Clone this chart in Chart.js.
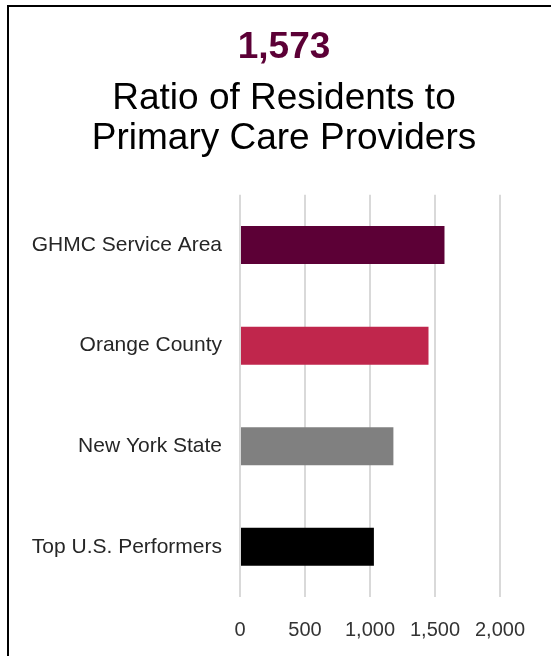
<!DOCTYPE html>
<html>
<head>
<meta charset="utf-8">
<script src="https://cdn.jsdelivr.net/npm/chart.js@4/dist/chart.umd.min.js"></script>
<style>
  html, body { margin: 0; padding: 0; background: #fff; }
  #frame { position: absolute; left: 7px; top: 5px; width: 544px; height: 651px;
           border-left: 2px solid #000; border-top: 2px solid #000; box-sizing: border-box; }
  #wrap { position: absolute; left: 9px; top: 7px; width: 542px; height: 649px; }
</style>
</head>
<body>
<div id="frame"></div>
<div id="wrap"><canvas id="c"></canvas></div>
<script>
const headline = "1,573";
const titleLines = ["Ratio of Residents to", "Primary Care Providers"];
const categories = ["GHMC Service Area", "Orange County", "New York State", "Top U.S. Performers"];
const values = [1573, 1450, 1180, 1030];
const barColors = ["#5c0036", "#c0264c", "#808080", "#000000"];
const xTicks = [0, 500, 1000, 1500, 2000];

// shift the title blocks so they are centred like the reference
const titleShift = {
  id: 'titleShift',
  afterLayout(chart) {
    chart.boxes.forEach(b => {
      if (b.position === 'top' && b.options && b.options.text !== undefined) {
        b.left += 29.5; b.right += 29.5;
      }
    });
  }
};

new Chart(document.getElementById('c'), {
  type: 'bar',
  data: {
    labels: categories,
    datasets: [{
      data: values,
      backgroundColor: barColors,
      borderWidth: 0,
      categoryPercentage: 1,
      barPercentage: 0.378
    }]
  },
  plugins: [titleShift],
  options: {
    indexAxis: 'y',
    responsive: true,
    maintainAspectRatio: false,
    animation: false,
    layout: { padding: { left: 0, right: 51, top: 0, bottom: 0 } },
    plugins: {
      legend: { display: false },
      tooltip: { enabled: false },
      title: {
        display: true,
        text: headline,
        color: '#5c0036',
        font: { family: 'Liberation Sans, Arial, sans-serif', size: 37, weight: 'bold' },
        padding: { top: 19, bottom: 4 }
      },
      subtitle: {
        display: true,
        text: titleLines,
        color: '#000',
        font: { family: 'Liberation Sans, Arial, sans-serif', size: 37, weight: 'normal', lineHeight: 1.08 },
        padding: { top: 4, bottom: 36.5 }
      }
    },
    scales: {
      x: {
        min: 0, max: 2000,
        afterBuildTicks: (s) => { s.ticks = xTicks.map(v => ({ value: v })); },
        afterFit: (s) => { s.height = 59; },
        grid: { color: '#d9d9d9', lineWidth: 2, drawTicks: false },
        border: { display: false },
        ticks: {
          color: '#333',
          padding: 21,
          maxRotation: 0,
          minRotation: 0,
          autoSkip: false,
          font: { family: 'Liberation Sans, Arial, sans-serif', size: 20 },
          callback: (v) => v.toLocaleString('en-US')
        }
      },
      y: {
        grid: { display: false, drawTicks: false },
        border: { display: false },
        afterFit: (s) => { s.width = 231; },
        ticks: {
          color: '#262626',
          padding: 18,
          font: { family: 'Liberation Sans, Arial, sans-serif', size: 21 }
        }
      }
    }
  }
});
</script>
</body>
</html>
